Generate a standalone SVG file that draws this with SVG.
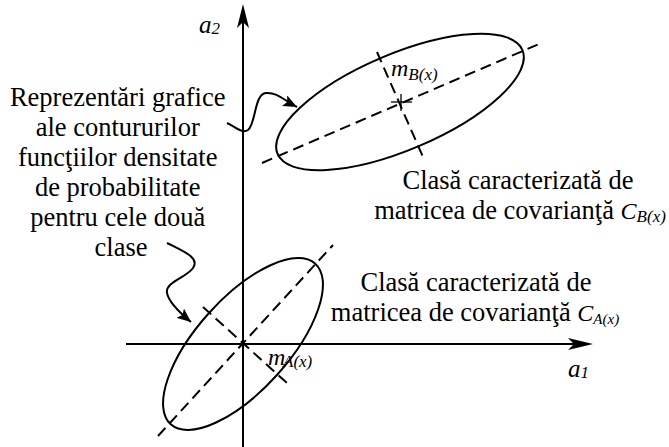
<svg xmlns="http://www.w3.org/2000/svg" width="669" height="447" viewBox="0 0 669 447">
<defs>
<style>
.ax{stroke:#000;stroke-width:2;fill:none}
.el{stroke:#000;stroke-width:2;fill:none}
.ds{stroke:#000;stroke-width:2;fill:none;stroke-dasharray:11 6}
.cv{stroke:#000;stroke-width:2;fill:none}
.t{font-size:26.5px;fill:#000}
.i{font-style:italic;fill:#000}
</style>
<marker id="ah" markerUnits="userSpaceOnUse" markerWidth="16" markerHeight="12" refX="14" refY="6" orient="auto">
<path d="M0,0 L14,6 L0,12 L3,6 z" fill="#000"/>
</marker>
</defs>
<rect width="669" height="447" fill="#fff"/>
<g font-family="'Liberation Serif', 'Times New Roman', Times, serif">
<g id="axes">
<line class="ax" x1="243" y1="447" x2="243" y2="18"/>
<polygon points="243,4 237,28 243,22 249,28" fill="#000"/>
<line class="ax" x1="126" y1="344" x2="580" y2="344"/>
<polygon points="593,344 568,338 574,344 568,350" fill="#000"/>
<text class="i" x="199" y="33" font-size="25">a<tspan font-size="17" dy="1">2</tspan></text>
<text class="i" x="568" y="377" font-size="25">a<tspan font-size="17" dy="1">1</tspan></text>
</g>
<g id="classA">
<ellipse class="el" cx="243" cy="344" rx="108" ry="46" transform="rotate(-48 243 344)"/>
<line class="ds" x1="158" y1="436" x2="333" y2="245"/>
<line class="ds" x1="203" y1="307" x2="287" y2="383"/>
<text class="i" x="268" y="365" font-size="24">m</text>
<text class="i" x="283" y="367" font-size="17" fill="#333">A(x)</text>
</g>
<g id="classB">
<ellipse class="el" cx="400" cy="102" rx="133" ry="48" transform="rotate(-23 400 102)"/>
<line class="ds" x1="262" y1="163" x2="539" y2="44"/>
<line class="ds" x1="377" y1="52" x2="423" y2="157"/>
<line stroke="#000" stroke-width="1.3" x1="391" y1="102" x2="412" y2="102"/>
<line stroke="#000" stroke-width="1.3" x1="401" y1="94" x2="401" y2="111"/>
<text class="i" x="391" y="76" font-size="24">m<tspan font-size="17" dy="4">B(x)</tspan></text>
</g>
<g id="labelLeft">
<text class="t" text-anchor="middle">
<tspan x="121" y="106">Reprezentări grafice</tspan>
<tspan x="121" y="136">ale contururilor</tspan>
<tspan x="121" y="166">funcţiilor densitate</tspan>
<tspan x="121" y="196">de probabilitate</tspan>
<tspan x="121" y="226">pentru cele două</tspan>
<tspan x="121" y="256">clase</tspan>
</text>
</g>
<g id="labelB">
<text class="t" x="518" y="189" text-anchor="middle">Clasă caracterizată de</text>
<text class="t" x="520" y="219" text-anchor="middle">matricea de covarianţă <tspan class="i" font-size="24">C</tspan><tspan class="i" font-size="17" dy="3">B(x)</tspan></text>
</g>
<g id="labelA">
<text class="t" x="476" y="291" text-anchor="middle">Clasă caracterizată de</text>
<text class="t" x="475" y="321" text-anchor="middle">matricea de covarianţă <tspan class="i" font-size="24">C</tspan><tspan class="i" font-size="15" dy="3">A(x)</tspan></text>
</g>
</g>
<g id="connectors">
<path class="cv" d="M227,123 C236,127 242,134 248,130 C256,124 254,94 266,93 C277,92 285,101 297,107" marker-end="url(#ah)"/>
<path class="cv" d="M167,243 C185,252 200,258 193,268 C186,278 165,282 167,293 C169,303 180,313 191,322" marker-end="url(#ah)"/>
</g>
</svg>
